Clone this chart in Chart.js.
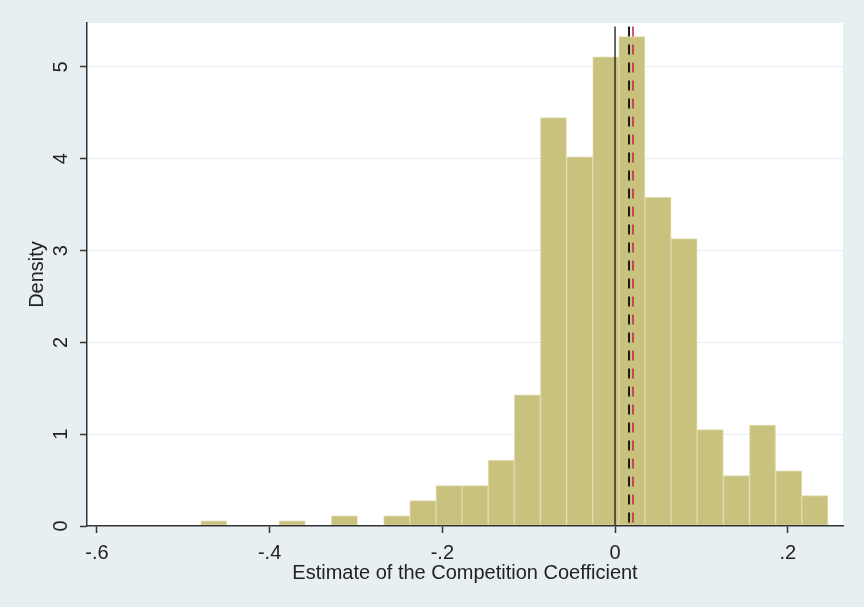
<!DOCTYPE html>
<html>
<head>
<meta charset="utf-8">
<title>Estimate of the Competition Coefficient</title>
<script src="https://cdn.jsdelivr.net/npm/chart.js@4.4.1/dist/chart.umd.min.js"></script>
<style>
  html, body { margin: 0; padding: 0; background: #e8eff2; }
</style>
</head>
<body>
<canvas id="hist" width="864" height="607"></canvas>
<script>
// bins (centre of each bin) and density heights
const binCenters = [-0.4647, -0.4344, -0.4042, -0.3739, -0.3436, -0.3134, -0.2831, -0.2528,
                    -0.2226, -0.1923, -0.1621, -0.1318, -0.1015, -0.0713, -0.0410, -0.0107,
                     0.0195,  0.0498,  0.0800,  0.1103,  0.1406,  0.1708,  0.2011,  0.2314]
const density    = [0.055, 0, 0, 0.055, 0, 0.11, 0, 0.11,
                    0.276, 0.44, 0.44, 0.716, 1.43, 4.45, 4.02, 5.11,
                    5.33, 3.58, 3.13, 1.05, 0.55, 1.10, 0.60, 0.33]

const xTicks = [-0.6, -0.4, -0.2, 0, 0.2]
const yTicks = [0, 1, 2, 3, 4, 5]

// vertical reference lines
const zeroLineX = 0
const blackDashX = 0.0162
const redDashX = 0.0208
const refLineTop = 5.44

const BG = '#e8eff2'
const INK = '#222222'

Chart.defaults.font.family = "'Liberation Sans', Arial, sans-serif"
Chart.defaults.color = INK

// decimal labels without the leading zero, like Stata
function stataNum(v){
    if(v === 0) return '0'
    return String(v).replace('0.', '.')
}

function vline(x, color, width, dash){
    return {
        type: 'line',
        data: [{x: x, y: refLineTop}, {x: x, y: 0}],
        borderColor: color,
        borderWidth: width,
        borderDash: dash,
        pointRadius: 0,
        order: 0
    }
}

const background = {
    id: 'background',
    beforeDraw(chart){
        const {ctx, chartArea: a} = chart
        ctx.save()
        ctx.fillStyle = BG
        ctx.fillRect(0, 0, chart.width, chart.height)
        ctx.fillStyle = '#ffffff'
        ctx.fillRect(a.left, a.top, a.right - a.left, a.bottom - a.top)
        ctx.restore()
    }
}

new Chart(document.getElementById('hist'), {
    data: {
        datasets: [
            {
                type: 'bar',
                data: binCenters.map((x, i) => ({x: x, y: density[i]})),
                backgroundColor: '#c9c27f',
                borderColor: '#e0dbaa',
                borderWidth: 1,
                borderSkipped: false,
                barPercentage: 1,
                categoryPercentage: 1,
                order: 1
            },
            vline(zeroLineX, '#1a1a1a', 1.3, []),
            vline(blackDashX, '#1a1a1a', 2, [10, 8]),
            vline(redDashX, '#c8203c', 1.5, [10, 8])
        ]
    },
    options: {
        responsive: false,
        animation: false,
        devicePixelRatio: 1,
        layout: { padding: { left: 0, right: 21, top: 23, bottom: 0 } },
        plugins: { legend: { display: false }, tooltip: { enabled: false } },
        scales: {
            x: {
                type: 'linear',
                offset: false,
                min: -0.6115,
                max: 0.264,
                afterBuildTicks: s => { s.ticks = xTicks.map(v => ({value: v})) },
                afterFit: s => { s.height = 81; s.paddingLeft = 0; s.paddingRight = 0 },
                grid: { offset: false, drawOnChartArea: false, drawTicks: true, tickLength: 7, tickColor: '#333', tickWidth: 1.5 },
                border: { display: true, color: '#333', width: 1.5, z: 1 },
                ticks: {
                    padding: 8,
                    maxRotation: 0,
                    font: { size: 20 },
                    color: INK,
                    callback: v => stataNum(v)
                },
                title: {
                    display: true,
                    text: 'Estimate of the Competition Coefficient',
                    font: { size: 20 },
                    color: INK,
                    padding: { top: 0, bottom: 22 }
                }
            },
            y: {
                min: 0,
                max: 5.479,
                afterBuildTicks: s => { s.ticks = yTicks.map(v => ({value: v})) },
                afterFit: s => { s.width = 87; s.paddingTop = 0; s.paddingBottom = 0 },
                grid: {
                    color: c => c.tick && c.tick.value === 0 ? 'rgba(0,0,0,0)' : '#e6eef1',
                    lineWidth: 1,
                    drawTicks: true,
                    tickLength: 7,
                    tickColor: '#333',
                    tickWidth: 1.5
                },
                border: { display: true, color: '#333', width: 1.5, z: 1 },
                ticks: {
                    padding: 13,
                    minRotation: 90,
                    maxRotation: 90,
                    crossAlign: 'center',
                    font: { size: 20 },
                    color: INK,
                    callback: v => stataNum(v)
                },
                title: {
                    display: true,
                    text: 'Density',
                    font: { size: 20 },
                    color: INK,
                    padding: { top: 25, bottom: 0 }
                }
            }
        }
    },
    plugins: [background]
})
</script>
</body>
</html>
